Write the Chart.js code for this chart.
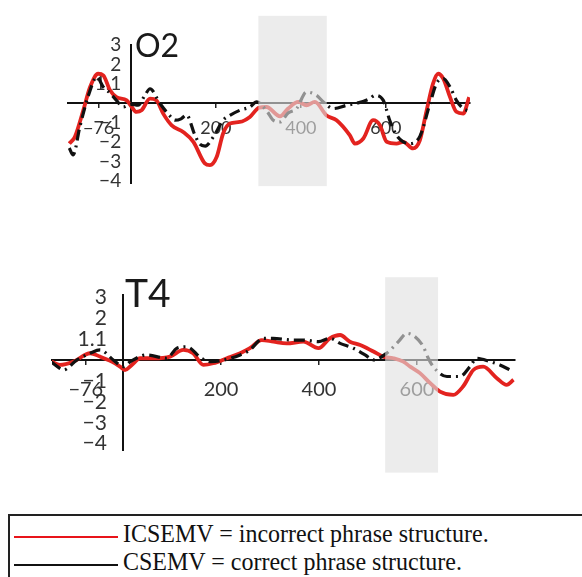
<!DOCTYPE html>
<html><head><meta charset="utf-8">
<script src="https://cdn.jsdelivr.net/npm/chart.js@4.4.0/dist/chart.umd.min.js"></script>
<style>
html,body{margin:0;padding:0;width:582px;height:577px;overflow:hidden;background:#fff;}
#c1{position:absolute;left:0;top:0;}
#c2{position:absolute;left:0;top:250px;}
#legend{position:absolute;left:8px;top:514px;width:620px;height:90px;border:2px solid #222;box-sizing:border-box;font-family:"Liberation Serif","Times New Roman",serif;font-size:24px;color:#111;}
.ln{position:absolute;left:4px;width:104px;height:0;border-top:2.5px solid;}
.tx{position:absolute;left:113px;line-height:24px;white-space:nowrap;transform:scaleY(1.07);transform-origin:0 20px;}
</style></head>
<body>
<canvas id="c1" width="582" height="200"></canvas>
<canvas id="c2" width="582" height="230"></canvas>
<div id="legend">
  <div class="ln" style="top:20px;border-color:#e8141a"></div><span class="tx" style="top:6px">ICSEMV = incorrect phrase structure.</span>
  <div class="ln" style="top:48px;border-color:#111"></div><span class="tx" style="top:34px">CSEMV = correct phrase structure.</span>
</div>
<script>
// ---- tick labels ----
const xTicks = [-76, 200, 400, 600];
const xTickLabels = ['\u221276', '200', '400', '600'];
const yTicks = [3, 2, 1, -1, -2, -3, -4];
const yTickLabels = ['3', '2', '1.1', '\u22121', '\u22122', '\u22123', '\u22124'];

// ---- O2 panel ----
const o2RedT = [-145,-132,-112,-96,-77,-65,-49,-34,-10,2,13,25,45,60,76,96,123,147,174,186,202,217,233,256,280,302,319,351,370,394,413,433,460,484,515,527,547,570,586,602,625,641,664,680,696,711,723,735,751,766,782,796];
const o2Red = [-2.07,-1.73,-0.36,0.84,1.52,1.44,0.67,0.32,0.15,-0.19,-0.44,-0.36,0.24,0.15,-0.53,-1.13,-1.47,-1.98,-3.09,-3.18,-2.75,-1.55,-1.04,-0.96,-0.70,-0.22,-0.19,-0.67,-0.27,0.07,-0.10,0.07,-0.62,-0.87,-1.64,-2.07,-1.81,-0.87,-1.13,-1.98,-2.07,-1.98,-2.32,-1.90,-0.36,1.01,1.52,1.27,0.32,-0.44,-0.53,0.32];
const o2BlackT = [-145,-136,-120,-100,-80,-65,-50,-34,-18,0,17,33,45,68,90,104,118,131,150,162,175,194,217,233,256,280,296,320,335,351,370,390,413,437,453,476,508,531,562,574,594,609,625,641,656,680,704,719,735,751,766,782,796];
const o2Black = [-2.3,-2.65,-1.2,0.4,1.35,0.84,0.55,0.15,-0.19,-0.05,-0.1,0.41,0.75,0.0,-0.6,-0.87,-0.8,-0.6,-1.6,-2.1,-2.2,-1.73,-0.87,-0.62,-0.36,-0.19,0.07,-0.4,-0.87,-0.96,-0.5,-0.27,0.58,0.41,0.07,-0.27,-0.10,0.0,0.24,0.41,0.15,-0.87,-1.64,-1.98,-2.07,-1.7,0.0,1.01,1.27,0.84,0.15,-0.27,-0.4];
const o2Shade = [300, 461];
const o2ShadeY = [4.5, -4.26];

// ---- T4 panel ----
const t4RedT = [-146,-129,-101,-67,-47,-23,-6,4,18,35,62,96,123,143,164,184,212,239,259,283,307,334,368,399,422,443,463,484,511,531,552,572,586,606,627,647,674,694,715,735,763,783,797];
const t4Red = [-0.08,-0.24,-0.08,0.32,0.16,-0.08,-0.32,-0.48,-0.24,0.08,0.08,0.16,0.48,0.32,-0.24,-0.16,0.08,0.32,0.56,0.95,0.87,0.79,0.87,0.56,1.03,1.19,0.87,0.71,0.40,0.16,0.08,-0.08,-0.32,-0.63,-1.11,-1.51,-1.67,-1.27,-0.48,-0.32,-0.87,-1.19,-0.95];
const t4BlackT = [-146,-129,-122,-94,-67,-47,-20,1,15,48,89,110,130,160,180,206,239,259,286,306,347,368,399,422,443,470,494,511,538,562,579,596,613,623,633,661,688,708,722,749,769,790];
const t4Black = [-0.1,-0.4,-0.48,0.0,0.32,0.48,0.0,-0.32,-0.08,0.24,0.08,0.56,0.63,0.08,-0.08,0.0,0.24,0.48,1.03,1.03,0.95,0.95,0.87,1.03,0.79,0.56,0.24,0.0,0.32,0.87,1.27,1.11,0.63,0.08,-0.32,-0.79,-0.79,-0.32,0.08,-0.08,-0.24,-0.48];
const t4Shade = [535, 643];
const t4ShadeY = [3.95, -5.38];

const pts = (t, v) => t.map((x, i) => ({x: x, y: v[i]}));

const panelPlugin = {
  id: 'panel',
  afterDatasetsDraw(chart, args, opts) {
    const {ctx, scales: {x, y}} = chart;
    const x0 = x.getPixelForValue(opts.shade[0]), x1 = x.getPixelForValue(opts.shade[1]);
    const y0 = y.getPixelForValue(opts.shadeY[0]), y1 = y.getPixelForValue(opts.shadeY[1]);
    ctx.save();
    ctx.fillStyle = 'rgba(224,224,224,0.62)';
    ctx.fillRect(x0, y0, x1 - x0, y1 - y0);
    ctx.restore();
  },
  afterDraw(chart, args, opts) {
    const {ctx, scales: {x, y}} = chart;
    ctx.save();
    ctx.fillStyle = '#1a1a1a';
    ctx.font = opts.titleSize + 'px Lato';
    ctx.textBaseline = 'alphabetic';
    ctx.textAlign = 'left';
    ctx.fillText(opts.title, x.getPixelForValue(0) + opts.titleDx, y.top + opts.titleDy);
    ctx.restore();
  }
};

function makeChart(id, cfg) {
  return new Chart(document.getElementById(id), {
    type: 'line',
    data: {
      datasets: [
        {label: 'CSEMV', data: pts(cfg.blackT, cfg.black), borderColor: '#111', borderWidth: 3.2,
         borderDash: [11, 5, 2, 5], pointRadius: 0, cubicInterpolationMode: 'monotone', fill: false},
        {label: 'ICSEMV', data: pts(cfg.redT, cfg.red), borderColor: '#e3231f', borderWidth: 3.8,
         pointRadius: 0, cubicInterpolationMode: 'monotone', fill: false}
      ]
    },
    options: {
      responsive: false, animation: false, devicePixelRatio: 1,
      layout: {padding: cfg.pad},
      plugins: {legend: {display: false}, tooltip: {enabled: false},
        panel: {shade: cfg.shade, shadeY: cfg.shadeY, title: cfg.title, titleSize: cfg.titleSize, titleDx: cfg.titleDx, titleDy: cfg.titleDy}},
      scales: {
        x: {type: 'linear', min: cfg.xmin, max: cfg.xmax, position: {y: 0},
          afterBuildTicks: s => { s.ticks = xTicks.map(v => ({value: v})); },
          ticks: {callback: (v, i) => xTickLabels[i], font: {family: 'Lato', size: cfg.fs}, color: '#333',
                  padding: cfg.xpad, maxRotation: 0, autoSkip: false},
          grid: {drawOnChartArea: false, drawTicks: true, tickLength: 4, color: '#222', lineWidth: 1.5},
          border: {color: '#111', width: 2}},
        y: {type: 'linear', min: cfg.ymin, max: cfg.ymax, position: {x: 0},
          afterBuildTicks: s => { s.ticks = yTicks.map(v => ({value: v})); },
          ticks: {callback: (v, i) => yTickLabels[i] + cfg.ygap, font: {family: 'Lato', size: cfg.yfs}, color: '#333',
                  padding: 0, autoSkip: false},
          grid: {drawOnChartArea: false, drawTicks: false},
          border: {color: '#111', width: 2}}
      }
    },
    plugins: [panelPlugin]
  });
}

makeChart('c1', {redT: o2RedT, red: o2Red, blackT: o2BlackT, black: o2Black, shade: o2Shade, shadeY: o2ShadeY,
  title: 'O2', titleSize: 32, titleDx: 4, titleDy: 12, xmin: -148, xmax: 798, ymin: -4.1, ymax: 3,
  pad: {left: 68, right: 112, top: 45, bottom: 17}, fs: 18, yfs: 19, xpad: 10, ygap: '  '});
makeChart('c2', {redT: t4RedT, red: t4Red, blackT: t4BlackT, black: t4Black, shade: t4Shade, shadeY: t4ShadeY,
  title: 'T4', titleSize: 39, titleDx: 2, titleDy: 12, xmin: -145, xmax: 800, ymin: -4.3, ymax: 3.1,
  pad: {left: 52, right: 67, top: 45, bottom: 30}, fs: 20, yfs: 21, xpad: 14, ygap: '   '});
</script>
</body></html>
